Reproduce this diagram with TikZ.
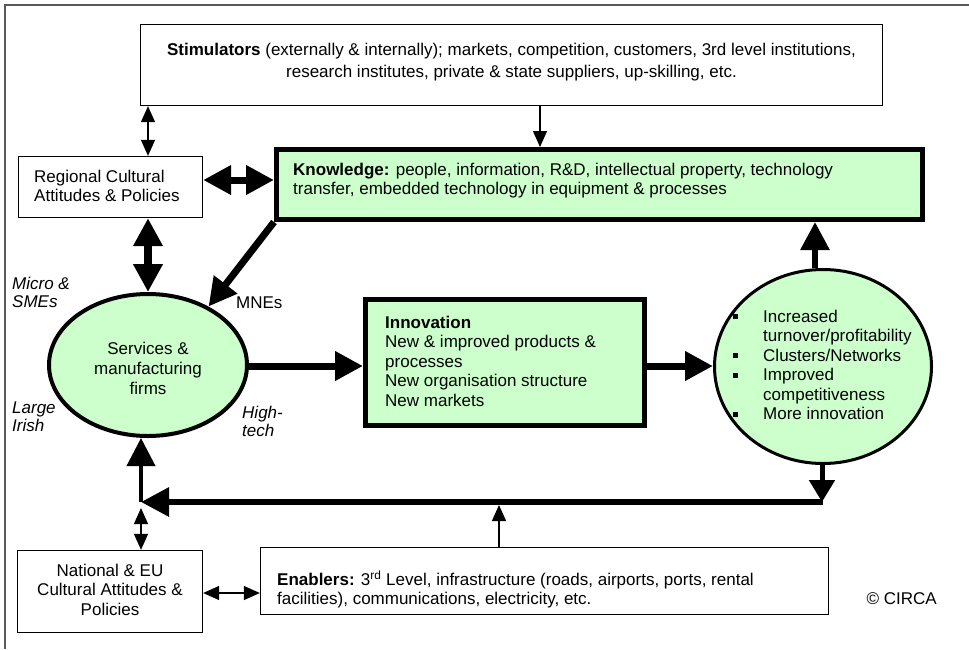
\documentclass[tikz,border=0pt]{standalone}
\usepackage{fontspec}
\setmainfont{Liberation Sans}
\usetikzlibrary{arrows.meta,shapes.geometric}
\definecolor{lgreen}{RGB}{204,255,204}
\newcommand\cbul{\makebox[30pt][l]{\raisebox{3pt}{\rule{5pt}{5pt}}}}
\begin{document}
\begin{tikzpicture}[x=1pt,y=-1pt,
  every node/.style={font=\fontsize{17}{19.5}\selectfont},
  thinbox/.style={draw=black, line width=1.3pt, inner sep=0pt},
  thickbox/.style={draw=black, line width=5pt, fill=lgreen, inner sep=0pt},
  txt/.style={inner sep=0pt, align=left},
  ctxt/.style={inner sep=0pt, align=center},
  lbl/.style={inner sep=0pt, align=left, font=\fontsize{17}{18}\selectfont\itshape},
  thinarr/.style={line width=1.3pt, -{Triangle[length=16pt,width=14pt]}},
  thinbiarr/.style={line width=1.3pt, {Triangle[length=16pt,width=14pt]}-{Triangle[length=16pt,width=14pt]}},
  fatarr/.style={line width=7pt, -{Triangle[length=28pt,width=28pt]}},
  fatbiarr/.style={line width=7pt, {Triangle[length=28pt,width=28pt]}-{Triangle[length=28pt,width=28pt]}},
]
\useasboundingbox (0,0) rectangle (969,649);
\draw[gray!70!black, line width=1.5pt] (5,649) -- (5,5) -- (969,5);

% boxes
\node[thinbox, minimum width=742pt, minimum height=81pt] (stim) at (511.5,65) {};
\node[ctxt, font=\fontsize{17}{22}\selectfont] (stimt) at (511.5,62) {\textbf{Stimulators} (externally \& internally); markets, competition, customers, 3rd level institutions,\\research institutes, private \& state suppliers, up-skilling, etc.};

\node[thinbox, minimum width=184pt, minimum height=61pt] (reg) at (110.5,187) {};
\node[txt, anchor=west] (regt) at (34,186) {Regional Cultural\\Attitudes \& Policies};

\node[thickbox, minimum width=646pt, minimum height=70pt] (know) at (599.5,184.5) {};
\node[txt, anchor=west] (knowt) at (293,180.5) {\textbf{Knowledge:} people, information, R\&D, intellectual property, technology\\transfer, embedded technology in equipment \& processes};

\node[ellipse, draw=black, line width=4pt, fill=lgreen, minimum width=198pt, minimum height=142pt, inner sep=0pt] (serv) at (148,365) {};
\node[ctxt, font=\fontsize{17}{20}\selectfont] (servt) at (148,368) {Services \&\\manufacturing\\firms};

\node[thickbox, minimum width=279pt, minimum height=126pt] (innov) at (505,362.5) {};
\node[txt, anchor=west] (innovt) at (385,361) {\textbf{Innovation}\\New \& improved products \&\\processes\\New organisation structure\\New markets};

\node[ellipse, draw=black, line width=3pt, fill=lgreen, minimum width=217pt, minimum height=194pt, inner sep=0pt] (res) at (823,366.5) {};
\node[txt, anchor=west] (rest) at (733,365) {\cbul Increased\\\hspace*{30pt}turnover/profitability\\\cbul Clusters/Networks\\\cbul Improved\\\hspace*{30pt}competitiveness\\\cbul More innovation};

\node[thinbox, minimum width=185pt, minimum height=82pt] (nat) at (110,591.5) {};
\node[ctxt] (natt) at (110,589.5) {National \& EU\\Cultural Attitudes \&\\Policies};

\node[thinbox, minimum width=568pt, minimum height=67pt] (enab) at (544.5,581) {};
\node[txt, anchor=west] (enabt) at (277,589.5) {\textbf{Enablers:} 3\textsuperscript{rd} Level, infrastructure (roads, airports, ports, rental\\facilities), communications, electricity, etc.};

\node[inner sep=0pt, anchor=east] (circa) at (937,599) {© CIRCA};

% labels
\node[lbl, anchor=west] (micro) at (12,292) {Micro \&\\SMEs};
\node[inner sep=0pt, anchor=west] (mnes) at (236,303) {MNEs};
\node[lbl, anchor=west] (large) at (12,417) {Large\\Irish};
\node[lbl, anchor=west] (high) at (242,421) {High-\\tech};

% helper coordinates
\coordinate (xa) at (148,0);
\coordinate (xb) at (540,0);
\coordinate (xc) at (815,0);
\coordinate (xd) at (822,0);
\coordinate (xe) at (499,0);
\coordinate (ya) at (0,180);
\coordinate (yb) at (0,366);
\coordinate (yc) at (0,593);
\coordinate (jL) at (141,502);
\coordinate (jLb) at (141,508);
\coordinate (jR) at (823,502);
\coordinate (je) at (499,505);

% connectors
\draw[thinbiarr] (stim.south -| xa) -- (reg.north -| xa);
\draw[thinarr] (stim.south -| xb) -- (know.north -| xb);
\draw[fatbiarr] (reg.east |- ya) -- (know.west |- ya);
\draw[fatbiarr, line width=8pt] (reg.south -| xa) -- (serv.north);
\draw[fatarr] (know.south west) -- (serv.44);
\draw[fatarr] (serv.east |- yb) -- (innov.west |- yb);
\draw[fatarr] (innov.east |- yb) -- (res.west |- yb);
\draw[fatarr, line width=6pt] (res.north -| xc) -- (know.south -| xc);
\draw[line width=5pt, -{Triangle[length=22pt,width=25pt]}] (res.south -| xd) -- (xd |- jR);
\draw[line width=6pt, -{Triangle[length=28pt,width=28pt]}] (jR) -- (jL);
\draw[fatarr, line width=4pt] (jL) -- (serv.south -| jL);
\draw[thinbiarr] (jLb) -- (nat.north -| jLb);
\draw[thinarr] (enab.north -| xe) -- (je);
\draw[thinbiarr] (nat.east |- yc) -- (enab.west |- yc);
\end{tikzpicture}
\end{document}
